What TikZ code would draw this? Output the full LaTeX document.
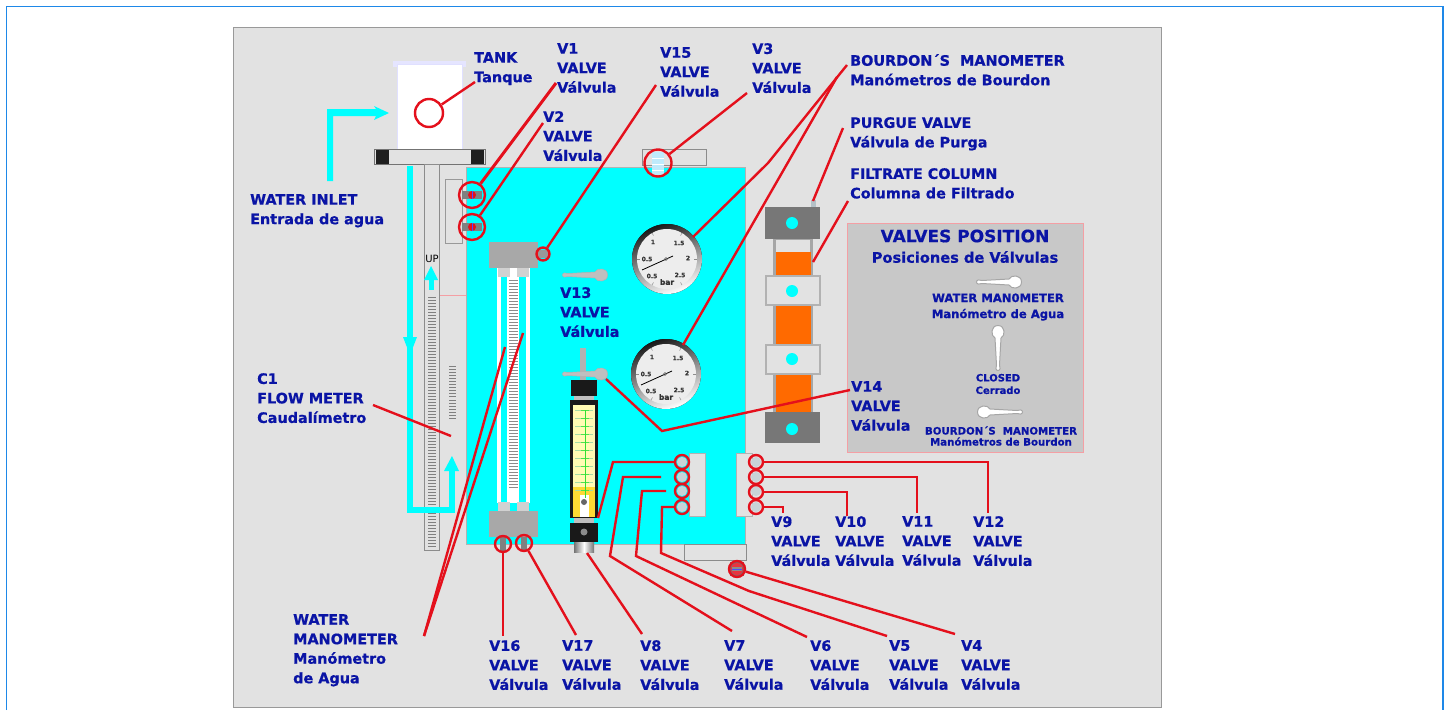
\documentclass[tikz,border=0pt]{standalone}
\usepackage{fontspec}
\setmainfont[BoldFeatures={FakeBold=0.6}]{DejaVu Sans}
\usetikzlibrary{positioning, shapes.geometric}
\definecolor{panelgray}{HTML}{E2E2E2}
\definecolor{boxgray}{HTML}{C8C8C8}
\definecolor{blockgray}{HTML}{A8A8A8}
\definecolor{darkblock}{HTML}{777777}
\definecolor{waterblue}{HTML}{00FFFF}
\definecolor{labelblue}{HTML}{0A14A5}
\definecolor{leaderred}{HTML}{E4101C}
\definecolor{filterorange}{HTML}{FF6A00}
\definecolor{framecol}{HTML}{1E88E8}
\tikzset{
  lbl/.style={anchor=north west, inner sep=0pt, align=left, text=labelblue,
    font=\bfseries\fontsize{14.4}{19.5}\selectfont},
  smalllbl/.style={inner sep=0pt, align=center, text=labelblue,
    font=\bfseries\fontsize{10}{12.5}\selectfont},
  leader/.style={draw=leaderred, line width=2.4pt},
  ring/.style={circle, draw=leaderred, line width=2.4pt, inner sep=0pt},
  gaugenum/.style={inner sep=0pt, text=black!80, font=\bfseries\fontsize{6}{6}\selectfont},
  pics/lever/.style={code={
    \path[#1] (-21.5,0) .. controls (-21.5,-2.5) and (-18,-2.5) .. (-16,-1.5) -- (11,-3)
      .. controls (13,-7.5) and (23.5,-7.5) .. (23.5,0)
      .. controls (23.5,7.5) and (13,7.5) .. (11,3) -- (-16,1.5)
      .. controls (-18,2.5) and (-21.5,2.5) .. (-21.5,0) -- cycle;
  }}
}
\begin{document}
\begin{tikzpicture}[x=1pt,y=-1pt]
  \useasboundingbox (0,0) rectangle (1449,710);
  % marco y panel
  \draw[framecol, line width=1.2pt] (6.5,710) -- (6.5,6.5) -- (1443,6.5) -- (1443,710);
  \fill[panelgray] (233,27) rectangle (1161,707);
  \draw[black!40, line width=1pt] (233,27) rectangle (1161,707);

  % tanque
  \fill[blue!10] (393,61) rectangle (466,67);
  \fill[white] (397,64) rectangle (462,149);
  \draw[blue!12, line width=0.6pt] (397,64) rectangle (462,149);
  \fill[panelgray] (374,149) rectangle (485,164);
  \draw[black!55, line width=0.8pt] (374,149) rectangle (485,164);
  \fill[black!88] (376,150) rectangle (389,164);
  \fill[black!88] (471,150) rectangle (484,164);

  % caudalimetro
  \draw[black!45, line width=0.8pt, fill=panelgray] (424,164) rectangle (439,550);
  \foreach \y in {297,300,...,546} \draw[black!50, line width=0.6pt] (428,\y) -- (436,\y);
  \foreach \y in {366,369,...,396} \draw[black!50, line width=0.6pt] (449,\y) -- (456,\y);
  \foreach \y in {400,403,...,420} \draw[black!50, line width=0.6pt] (449,\y) -- (456,\y);
  \draw[black!40, line width=0.6pt] (445,179) rectangle (462,243);
  \draw[leaderred!40, line width=0.5pt] (440,295) -- (466,295);
  \node[inner sep=0pt, font=\fontsize{10}{10}\selectfont] (uplbl) at (432,259) {UP};

  % cuerpo
  \fill[waterblue] (466,167) rectangle (745,544);
  \draw[black!30, line width=0.6pt] (466,167) rectangle (745,544);
  \draw[black!45, line width=0.7pt] (642,149) rectangle (706,165);
  \draw[black!45, line width=0.7pt] (684,544) rectangle (746,560);

  % flechas de agua
  \fill[waterblue] (327,181) -- (327,109) -- (376,109) -- (374,106) -- (389,113) -- (374,120) -- (376,116) -- (333,116) -- (333,181) -- cycle;
  \fill[waterblue] (407,166) rectangle (413,512);
  \fill[waterblue] (407,507) rectangle (454,513);
  \fill[waterblue] (449,470) rectangle (455,513);
  \fill[waterblue] (403,337) -- (417,337) -- (410,355) -- cycle;
  \fill[waterblue] (444,471) -- (459,471) -- (452,456) -- cycle;
  \fill[waterblue] (429,278) rectangle (434,290);
  \fill[waterblue] (424,280) -- (438,280) -- (431,266) -- cycle;

  % manometro de agua
  \fill[white] (497,268) rectangle (501,503);
  \fill[white] (507,268) rectangle (519,503);
  \fill[white] (526,268) rectangle (530,503);
  \foreach \y in {280,283,...,487} \draw[black!45, line width=0.5pt] (509,\y) -- (518,\y);
  \foreach \x in {498,517} {
    \fill[black!18] (\x,268) rectangle ++(12,9);
    \fill[black!18] (\x,502) rectangle ++(12,9);
  }
  \fill[blockgray] (489,242) rectangle (538,268);
  \fill[blockgray] (489,511) rectangle (538,537);
  \fill[black!50] (500,537) rectangle (506,551);
  \fill[black!50] (521,537) rectangle (527,551);
  \fill[black!40] (537,250) rectangle (549,258);

  % valvulas laterales
  \foreach \y in {195,227} {
    \fill[black!50] (462,\y-4) rectangle (482,\y+4);
    \fill[leaderred] (472,\y) circle (4);
    \draw[blue!70, line width=0.5pt] (472,\y-4) -- (472,\y+4);
  }
  \fill[cyan!25] (652,152) rectangle (664,176);
  \foreach \y in {158,164,170} \draw[white, line width=0.8pt] (652,\y) -- (664,\y);
  \fill[black!55] (730,562) rectangle (744,576);
  \fill[leaderred!85] (737,569) circle (6);
  \fill[black!45] (732,567) rectangle (742,571);
  \draw[blue!70, line width=0.8pt] (732,569) -- (742,569);

  % manometros de Bourdon
  \foreach \gx/\gy/\gi in {667/259/a,666/374/b} {
    \fill[left color=black!90, middle color=black!25, right color=white, shading angle=20] (\gx,\gy) circle (35);
    \fill[black!7] (\gx,\gy) circle (30);
    \foreach \ang in {30,90,150,210,270,330}
      \draw[black!45, line width=0.5pt] (\gx,\gy) ++(\ang+30:30) -- ++(\ang+30:-3);
    \node[gaugenum] (n1\gi) at (\gx-14,\gy-17) {1};
    \node[gaugenum] (n2\gi) at (\gx+12,\gy-16) {1.5};
    \node[gaugenum] (n3\gi) at (\gx-20,\gy) {0.5};
    \node[gaugenum] (n4\gi) at (\gx+21,\gy-1) {2};
    \node[gaugenum] (n5\gi) at (\gx-15,\gy+17) {0.5};
    \node[gaugenum] (n6\gi) at (\gx+13,\gy+16) {2.5};
    \node[gaugenum, font=\bfseries\fontsize{7.5}{7.5}\selectfont] (n7\gi) at (\gx,\gy+23) {bar};
    \draw[black, line width=0.8pt] (\gx-25,\gy+11) -- (\gx+6,\gy-3);
    \draw[black!60, line width=0.4pt] (\gx-1,\gy) circle (1.5);
  }

  % palancas en el cuerpo
  \path (584,275) pic {lever={fill=black!25, draw=black!30, line width=0.5pt}};
  \fill[black!30] (580,348) rectangle (586,380);
  \path (584,374) pic {lever={fill=black!25, draw=black!30, line width=0.5pt}};

  % columna con rotametro
  \fill[black!90] (571,380) rectangle (597,396);
  \fill[black!25] (574,396) rectangle (594,400);
  \fill[black!90] (570,400) rectangle (598,518);
  \fill[yellow!30!white] (573,405) rectangle (595,517);
  \fill[yellow!70!orange!80] (573,487) rectangle (595,517);
  \fill[white] (580,495) rectangle (589,517);
  \foreach \y in {410,418,...,490} {
    \draw[green!60!black!35, line width=0.4pt] (575,\y) -- (593,\y);
    \draw[green!85!black!70, line width=0.6pt] (581,\y) -- (589,\y);
  }
  \draw[green!85!black!80, line width=1pt] (585,410) -- (585,498);
  \fill[black!60] (584,502) circle (3);
  \fill[black!25] (574,518) rectangle (594,523);
  \fill[black!90] (570,523) rectangle (598,542);
  \fill[black!45] (584,532) circle (3.5);
  \fill[left color=black!55, right color=black!55, middle color=white] (574,542) rectangle (594,552);

  % colectores de valvulas
  \fill[panelgray] (689,453) rectangle (705,516);
  \draw[black!30, line width=0.5pt] (689,453) rectangle (705,516);
  \fill[panelgray] (736,453) rectangle (752,516);
  \draw[black!30, line width=0.5pt] (736,453) rectangle (752,516);
  \foreach \y in {462,477,491,507} {
    \fill[cyan!30!black!25] (682,\y) circle (5);
    \fill[cyan!30!black!25] (756,\y) circle (5);
  }

  % columna de filtrado
  \fill[black!35] (773,239) rectangle (813,412);
  \fill[panelgray] (776,240) rectangle (810,252);
  \fill[filterorange] (776,252) rectangle (811,276);
  \fill[filterorange] (776,305) rectangle (811,345);
  \fill[filterorange] (776,374) rectangle (811,412);
  \fill[darkblock] (765,207) rectangle (820,239);
  \fill[darkblock] (765,412) rectangle (820,443);
  \draw[black!30, fill=panelgray, line width=1.5pt] (766,276) rectangle (820,305);
  \draw[black!30, fill=panelgray, line width=1.5pt] (766,345) rectangle (820,374);
  \foreach \y in {223,291,359,429} \fill[waterblue] (792,\y) circle (6);
  \fill[cyan!30!black!35] (811,200) rectangle (816,207);

  % recuadro de posiciones
  \fill[boxgray] (847,223) rectangle (1083,452);
  \draw[leaderred!40, line width=0.7pt] (847,223) rectangle (1083,452);
  \node[inner sep=0pt, text=labelblue, font=\bfseries\fontsize{17}{17}\selectfont] (postitle) at (965,236) {VALVES POSITION};
  \node[inner sep=0pt, text=labelblue, font=\bfseries\fontsize{14.6}{14.6}\selectfont] (possub) at (965,257) {Posiciones de Válvulas};
  \path (998,282) pic {lever={fill=white, draw=black!35, line width=1pt}};
  \path (998,349) pic[rotate=90] {lever={fill=white, draw=black!35, line width=1pt}};
  \path (1001,412) pic[rotate=180] {lever={fill=white, draw=black!35, line width=1pt}};
  \node[smalllbl, font=\bfseries\fontsize{11.6}{16}\selectfont] (poswater) at (998,307) {WATER MAN0METER\\Manómetro de Agua};
  \node[smalllbl] (posclosed) at (998,384) {CLOSED\\Cerrado};
  \node[smalllbl, font=\bfseries\fontsize{10.2}{11}\selectfont] (posbourdon) at (1001,436) {BOURDON´S~ MANOMETER\\Manómetros de Bourdon};

  % aros rojos
  \node[ring, minimum size=28pt] (tankc) at (429,113) {};
  \node[ring, minimum size=26pt] (v1c) at (472,195) {};
  \node[ring, minimum size=26pt] (v2c) at (472,227) {};
  \node[ring, minimum size=13pt] (v15c) at (543,254) {};
  \node[ring, minimum size=27pt] (v3c) at (658,163) {};
  \node[ring, minimum size=16pt] (v16c) at (503,544) {};
  \node[ring, minimum size=16pt] (v17c) at (524,543) {};
  \node[ring, minimum size=16pt] (v4c) at (737,569) {};
  \foreach \nm/\y in {v7m/462,v6m/477,v5m/491,v4m/507} \node[ring, minimum size=14pt] (\nm) at (682,\y) {};
  \foreach \nm/\y in {v12c/462,v11c/477,v10c/492,v9c/507} \node[ring, minimum size=14pt] (\nm) at (756,\y) {};

  % textos
  \node[lbl] (tanklbl) at (474,52) {TANK\\Tanque};
  \node[lbl] (v1lbl) at (557,43) {V1\\VALVE\\Válvula};
  \node[lbl] (v15lbl) at (660,47) {V15\\VALVE\\Válvula};
  \node[lbl] (v3lbl) at (752,43) {V3\\VALVE\\Válvula};
  \node[lbl] (v2lbl) at (543,111) {V2\\VALVE\\Válvula};
  \node[lbl] (bourdonlbl) at (850,54) {BOURDON´S~ MANOMETER\\Manómetros de Bourdon};
  \node[lbl] (purgelbl) at (850,117) {PURGUE VALVE\\Válvula de Purga};
  \node[lbl] (filterlbl) at (850,168) {FILTRATE COLUMN\\Columna de Filtrado};
  \node[lbl] (inletlbl) at (250,194) {WATER INLET\\Entrada de agua};
  \node[lbl] (v13lbl) at (560,287) {V13\\VALVE\\Válvula};
  \node[lbl] (c1lbl) at (257,373) {C1\\FLOW METER\\Caudalímetro};
  \node[lbl] (v14lbl) at (851,381) {V14\\VALVE\\Válvula};
  \node[lbl] (wmanlbl) at (293,614) {WATER\\MANOMETER\\Manómetro\\de Agua};
  \foreach \nm/\x/\y in {V9/771/516,V10/835/516,V11/902/516,V12/973/516,V16/489/640,V17/562/640,V8/640/640,V7/724/640,V6/810/640,V5/889/640,V4/961/640}
    \node[lbl] (\nm lbl) at (\x,\y) {\nm\\VALVE\\Válvula};

  % extremos de las guias
  \coordinate (tankend) at (475,82);
  \coordinate (v1end) at (556,83);
  \coordinate (v2end) at (543,123);
  \coordinate (v15end) at (656,85);
  \coordinate (v3end) at (747,93);
  \coordinate (bourdona) at (847,65);
  \coordinate (bourdonb) at (837,77);
  \coordinate (gaugea) at (693,237);
  \coordinate (gaugeb) at (683,345);
  \coordinate (purgeend) at (843,128);
  \coordinate (purgevalve) at (813,201);
  \coordinate (filterend) at (848,201);
  \coordinate (filtercol) at (813,262);
  \coordinate (v14end) at (850,390);
  \coordinate (v13ball) at (606,379);
  \coordinate (c1end) at (373,405);
  \coordinate (c1tube) at (451,436);
  \coordinate (wmanend) at (424,636);
  \coordinate (wmana) at (505,347);
  \coordinate (wmanb) at (523,333);
  \coordinate (v16end) at (503,636);
  \coordinate (v17end) at (576,635);
  \coordinate (v8end) at (642,634);
  \coordinate (v8body) at (587,553);
  \coordinate (rotbody) at (598,518);
  \coordinate (v7start) at (661,477);
  \coordinate (v7end) at (732,631);
  \coordinate (v6start) at (666,491);
  \coordinate (v6end) at (807,637);
  \coordinate (v5end) at (887,636);
  \coordinate (v4end) at (955,634);
  \coordinate (v9end) at (783,513);
  \coordinate (v10end) at (847,516);
  \coordinate (v11end) at (917,513);
  \coordinate (v12end) at (988,513);

  % guias
  \draw[leader] (tankc) -- (tankend);
  \draw[leader, line width=3pt] (v1c) -- (v1end);
  \draw[leader] (v2c) -- (v2end);
  \draw[leader] (v15c) -- (v15end);
  \draw[leader] (v3c) -- (v3end);
  \draw[leader] (bourdona) -- (768,163) -- (gaugea);
  \draw[leader] (bourdonb) -- (gaugeb);
  \draw[leader] (purgeend) -- (purgevalve);
  \draw[leader] (filterend) -- (filtercol);
  \draw[leader] (v14end) -- (662,431) -- (v13ball);
  \draw[leader] (c1end) -- (c1tube);
  \draw[leader] (wmanend) -- (wmana);
  \draw[leader] (wmanend) -- (wmanb);
  \draw[leader] (v16c) -- (v16end);
  \draw[leader] (v17c) -- (v17end);
  \draw[leader] (v8body) -- (v8end);
  \draw[leader] (v7m) -- (613,462) -- (rotbody);
  \draw[leader] (v7start) -- (623,477) -- (610,556) -- (v7end);
  \draw[leader] (v6start) -- (642,491) -- (636,556) -- (v6end);
  \draw[leader] (v4m) -- (662,507) -- (661,553) -- (749,591) -- (v5end);
  \draw[leader] (v4c) -- (v4end);
  \draw[leader] (v9c) -- (783,507) -- (v9end);
  \draw[leader] (v10c) -- (847,492) -- (v10end);
  \draw[leader] (v11c) -- (917,477) -- (v11end);
  \draw[leader] (v12c) -- (988,462) -- (v12end);
\end{tikzpicture}
\end{document}
